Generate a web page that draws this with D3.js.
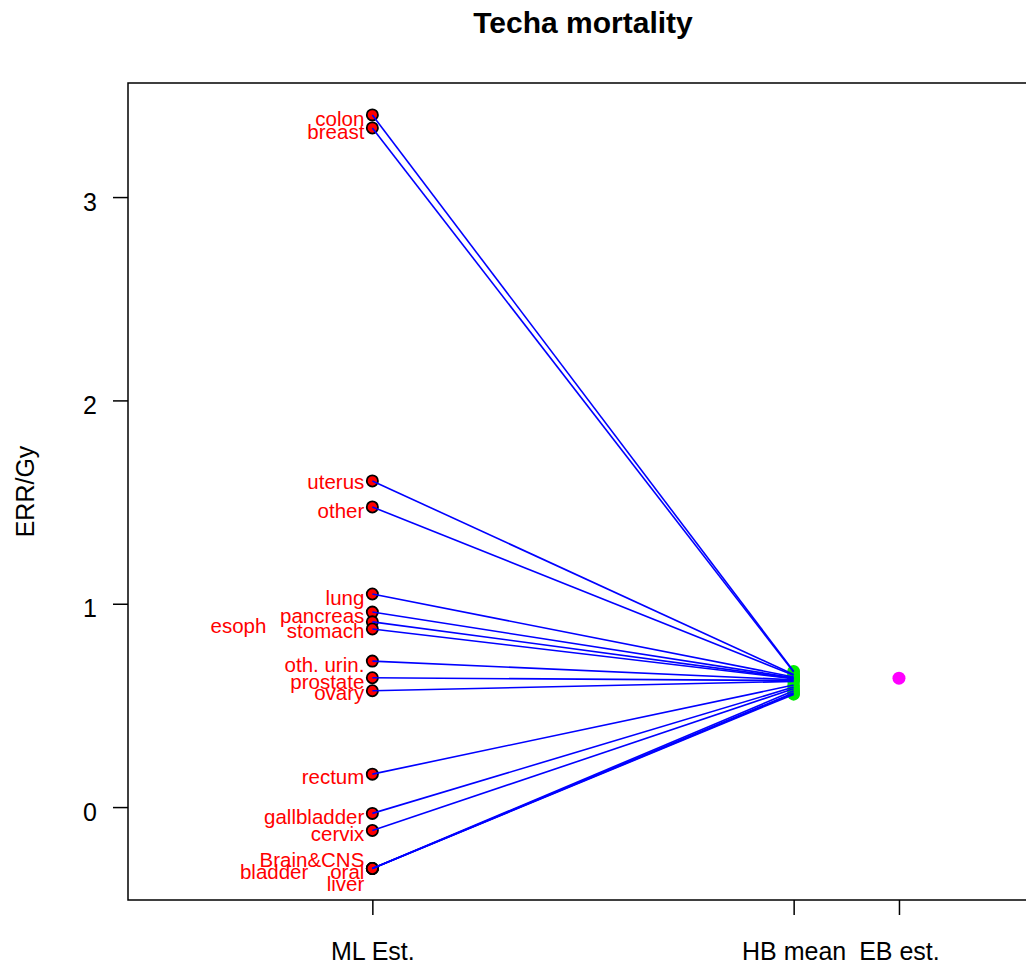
<!DOCTYPE html>
<html>
<head>
<meta charset="utf-8">
<script src="https://cdn.jsdelivr.net/npm/d3@7"></script>
<style>
  body { margin: 0; background: #fff; }
  text { font-family: "Liberation Sans", Arial, sans-serif; }
</style>
</head>
<body>
<svg id="chart" width="1026" height="964"></svg>
<script>
// cancer sites, in plotting order
const sites = ["colon", "breast", "uterus", "other", "lung", "pancreas", "esoph", "stomach",
  "oth. urin.", "prostate", "ovary", "rectum", "gallbladder", "cervix",
  "Brain&CNS", "bladder", "oral", "liver"];
// maximum likelihood ERR/Gy per site
const mlEst = [3.404, 3.34, 1.604, 1.476, 1.048, 0.959, 0.911, 0.876,
  0.718, 0.636, 0.572, 0.162, -0.031, -0.115,
  -0.302, -0.302, -0.302, -0.302];
// hierarchical bayes posterior means (read from the green cluster)
const hbMean = [0.668, 0.664, 0.652, 0.648, 0.640, 0.636, 0.633, 0.631,
  0.626, 0.622, 0.618, 0.600, 0.590, 0.582,
  0.572, 0.562, 0.558, 0.554];
const ebEst = 0.634; // empirical bayes estimate
const xCats = ["ML Est.", "HB mean", "EB est."];
const xCatPos = [1, 3, 3.5];
const yTicks = [0, 1, 2, 3];

// label tweaks so the stacked names don't collide [dx, dy] in px
const labelNudge = {
  "uterus": [0, 8], "stomach": [0, 9], "ovary": [0, 9], "rectum": [0, 10],
  "esoph": [-98, 11], "Brain&CNS": [0, -1], "bladder": [-56, 11], "liver": [0, 23]
};

const svg = d3.select("#chart");
const margin = { top: 83, left: 128 };
const plotW = 910, plotH = 817;

const x = d3.scaleLinear().domain([-0.16, 4.16]).range([0, plotW]);
const y = d3.scaleLinear().domain([-0.457, 3.561]).range([plotH, 0]);

const g = svg.append("g").attr("transform", `translate(${margin.left},${margin.top})`);

// box round the plot region (right side falls outside the window)
g.append("rect")
  .attr("width", plotW).attr("height", plotH)
  .attr("fill", "none").attr("stroke", "#000").attr("stroke-width", 1.5);

// y axis
const yAx = g.append("g")
  .call(d3.axisLeft(y).tickValues(yTicks).tickSize(15).tickSizeOuter(0).tickPadding(16).tickFormat(d3.format("d")));
yAx.select(".domain").remove();
yAx.selectAll("line").attr("stroke-width", 1.5);
yAx.selectAll("text").attr("font-size", 25).attr("fill", "#000").attr("dy", "0.52em")
  .style("font-family", "'Liberation Sans', Arial, sans-serif");

// x axis with the three estimate types
const xAx = g.append("g")
  .attr("transform", `translate(0,${plotH})`)
  .call(d3.axisBottom(x).tickValues(xCatPos).tickSize(15).tickSizeOuter(0).tickPadding(27)
    .tickFormat((d, i) => xCats[i]));
xAx.select(".domain").remove();
xAx.selectAll("line").attr("stroke-width", 1.5);
xAx.selectAll("text").attr("font-size", 25).attr("fill", "#000")
  .style("font-family", "'Liberation Sans', Arial, sans-serif");

const data = sites.map((s, i) => ({ site: s, ml: mlEst[i], hb: hbMean[i] }));

// ML points
g.selectAll(".ml")
  .data(data)
  .enter().append("circle")
  .attr("class", "ml")
  .attr("cx", x(xCatPos[0]))
  .attr("cy", d => y(d.ml))
  .attr("r", 5.6)
  .attr("fill", "#ff0000")
  .attr("stroke", "#000")
  .attr("stroke-width", 1.8);

// HB points
g.selectAll(".hb")
  .data(data)
  .enter().append("circle")
  .attr("class", "hb")
  .attr("cx", x(xCatPos[1]))
  .attr("cy", d => y(d.hb))
  .attr("r", 6.2)
  .attr("fill", "#00ee00");

// shrinkage lines ML -> HB
g.selectAll(".seg")
  .data(data)
  .enter().append("line")
  .attr("class", "seg")
  .attr("x1", x(xCatPos[0])).attr("y1", d => y(d.ml))
  .attr("x2", x(xCatPos[1])).attr("y2", d => y(d.hb))
  .attr("stroke", "#0000ff")
  .attr("stroke-width", 1.6);

// EB estimate
g.append("circle")
  .attr("cx", x(xCatPos[2]))
  .attr("cy", y(ebEst))
  .attr("r", 6.5)
  .attr("fill", "#ff00ff");

// site names
g.selectAll(".lab")
  .data(data)
  .enter().append("text")
  .attr("class", "lab")
  .attr("x", d => x(xCatPos[0]) - 8 + (labelNudge[d.site] ? labelNudge[d.site][0] : 0))
  .attr("y", d => y(d.ml) + (labelNudge[d.site] ? labelNudge[d.site][1] : 11))
  .attr("text-anchor", "end")
  .attr("font-size", 20.5)
  .attr("fill", "#ff0000")
  .text(d => d.site);

// title and y label
svg.append("text")
  .attr("x", margin.left + plotW / 2).attr("y", 33)
  .attr("text-anchor", "middle")
  .attr("font-size", 30).attr("font-weight", "bold")
  .text("Techa mortality");

svg.append("text")
  .attr("transform", `translate(34,${margin.top + plotH / 2}) rotate(-90)`)
  .attr("text-anchor", "middle")
  .attr("font-size", 25)
  .text("ERR/Gy");
</script>
</body>
</html>
